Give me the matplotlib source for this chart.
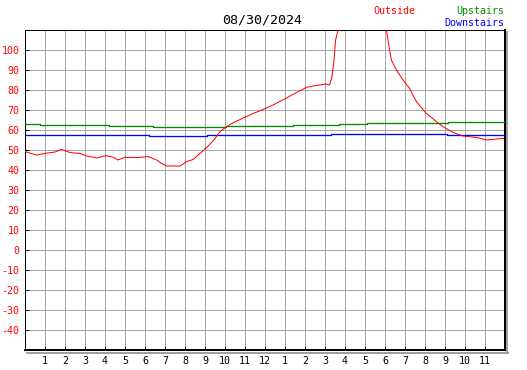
import matplotlib
matplotlib.use("Agg")
import matplotlib.pyplot as plt
from matplotlib.lines import Line2D

# Temperature readings for 08/30/2024 (hour of day, degrees)
outside_hours = [0, 0.58, 1, 1.5, 1.83, 2.25, 2.75, 3.1, 3.58, 4.05, 4.4, 4.65, 5, 5.58,
                 6.17, 6.58, 6.83, 7.08, 7.75, 8.08, 8.42, 8.75, 9.08, 9.42, 9.75, 10.08,
                 10.42, 10.92, 11.42, 11.92, 12.4, 12.98, 13.4, 14.07, 14.4, 15.07, 15.23,
                 15.35, 15.45, 15.53, 15.7, 16.0, 17.0, 17.9, 18.07, 18.2, 18.32, 18.57,
                 18.9, 19.23, 19.48, 19.57, 20.07, 20.57, 20.9, 21.4, 21.9, 22.57, 23.07,
                 23.57, 23.95]
outside_temps = [49.2, 47.5, 48.3, 49, 50.3, 48.7, 48.3, 47, 46, 47.2, 46.4, 45, 46.4, 46.2,
                 46.7, 45, 43.3, 42, 42, 44.2, 45.3, 48.3, 51.2, 54.7, 59.2, 61.7,
                 63.7, 66, 68.3, 70.3, 72.5, 75.5, 77.8, 81.3, 82, 83, 82.5,
                 86.7, 95, 105, 112, 116, 118, 114, 110, 101.7, 95, 90,
                 85, 80.8, 75.8, 74.2, 68.3, 64.2, 61.7, 58.8, 57, 56.3, 55,
                 55.5, 55.8]

upstairs_hours = [0, 0.75, 4.2, 6.4, 10.05, 13.4, 15.7, 17.1, 21.15, 23.95]
upstairs_temps = [63, 62.5, 62, 61.5, 62, 62.5, 63, 63.5, 64, 64]

downstairs_hours = [0, 6.2, 9.1, 15.3, 21.1, 23.95]
downstairs_temps = [57.5, 57, 57.5, 58, 57.5, 57.5]

hour_ticks = list(range(1, 24))
hour_labels = [str(h if h <= 12 else h - 12) for h in hour_ticks]
temp_ticks = list(range(-40, 101, 10))

W, H = 527, 370
fig = plt.figure(figsize=(W / 100, H / 100), dpi=100)
ax = fig.add_axes([25 / W, (H - 350) / H, 480 / W, 320 / H])

mono = "DejaVu Sans Mono"
px = 0.72  # one pixel in points

ax.plot(outside_hours, outside_temps, color="#ff0000", lw=px, zorder=4)
ax.plot(upstairs_hours, upstairs_temps, color="#008c00", lw=px * 1.3, drawstyle="steps-post",
        zorder=3)
ax.plot(downstairs_hours, downstairs_temps, color="#0000ff", lw=px * 1.3, drawstyle="steps-post",
        zorder=3)

ax.set_xlim(0, 24)
ax.set_ylim(-50, 110)
ax.set_xticks(hour_ticks)
ax.set_xticklabels(hour_labels, fontfamily=mono, fontsize=7.2)
ax.set_yticks(temp_ticks)
ax.set_yticklabels([str(t) for t in temp_ticks], fontfamily=mono, fontsize=7.2, color="#ff0000")
ax.tick_params(direction="in", length=3, width=px, color="black")
ax.tick_params(axis="x", pad=4)
ax.tick_params(axis="y", pad=4)
ax.grid(True, color="#a8a8a8", lw=px)
ax.set_axisbelow(True)

for side in ["left", "top"]:
    ax.spines[side].set_linewidth(px)
for side in ["right", "bottom"]:
    ax.spines[side].set_linewidth(px * 2)

# grey drop shadow along the right and bottom edges
def fx(x):
    return x / W

def fy(y):
    return 1 - y / H

fig.add_artist(Line2D([fx(507), fx(507)], [fy(32), fy(353)], color="#a0a0a0", lw=px * 2))
fig.add_artist(Line2D([fx(27), fx(508)], [fy(352.5), fy(352.5)], color="#a0a0a0", lw=px * 2))

fig.text(fx(262), fy(20), "08/30/2024", fontfamily=mono, fontsize=9.6, ha="center", va="center")
fig.text(fx(373), fy(11), "Outside", fontfamily=mono, fontsize=7.2, color="#ff0000",
         ha="left", va="center")
fig.text(fx(504), fy(11), "Upstairs", fontfamily=mono, fontsize=7.2, color="#008c00",
         ha="right", va="center")
fig.text(fx(504), fy(23), "Downstairs", fontfamily=mono, fontsize=7.2, color="#0000ff",
         ha="right", va="center")

fig.savefig("out.png", dpi=100)
